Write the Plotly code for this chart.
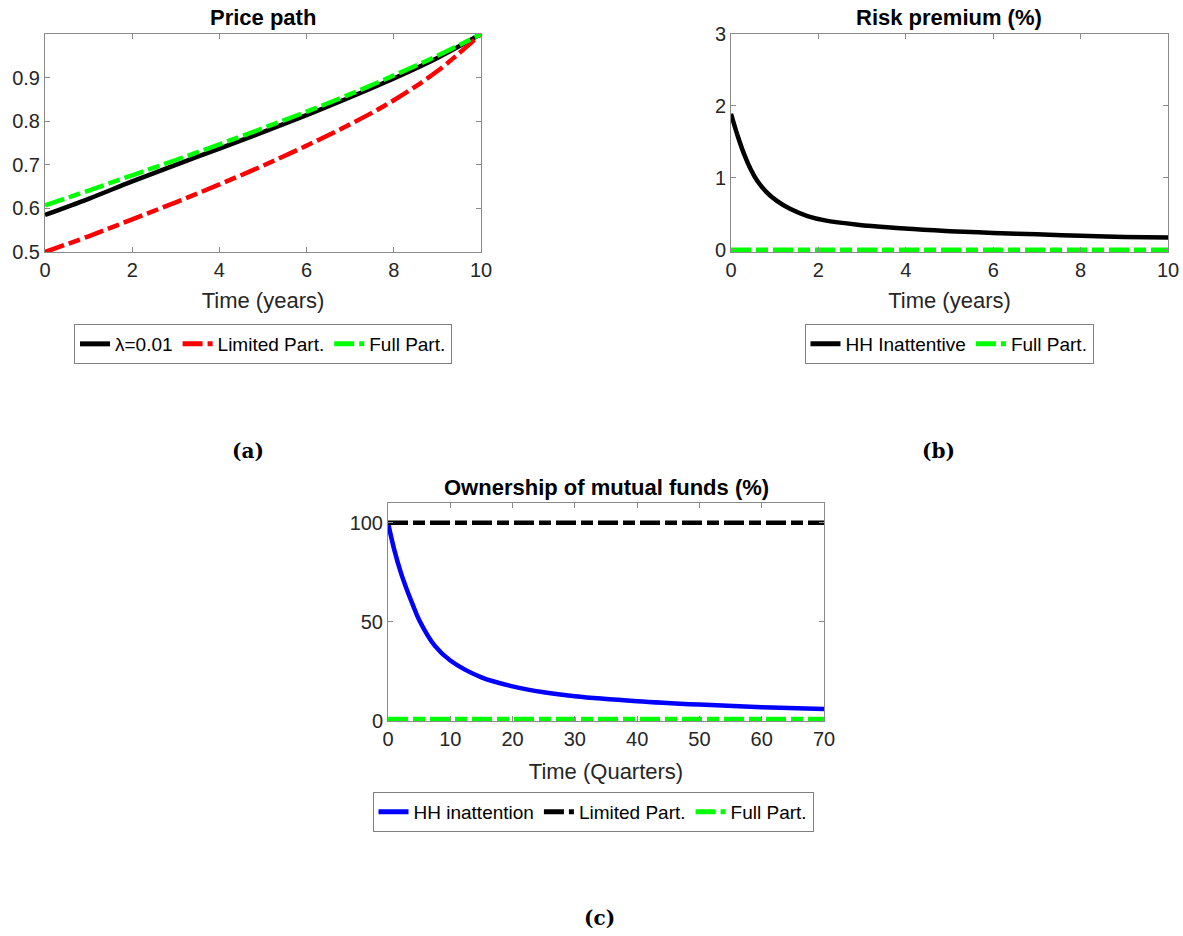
import plotly.graph_objects as go

W, H = 1183, 936

# ---------- data ----------
t_years = [0, 1, 2, 3, 4, 5, 6, 7, 8, 9, 10]
price_lambda = [0.585, 0.622, 0.662, 0.700, 0.737, 0.775, 0.814, 0.855, 0.898, 0.945, 1.0]
price_limited = [0.500, 0.536, 0.575, 0.614, 0.655, 0.698, 0.744, 0.793, 0.848, 0.915, 1.0]
price_full = [0.607, 0.641, 0.676, 0.711, 0.747, 0.784, 0.822, 0.862, 0.905, 0.950, 1.0]

t_rp = [0, 0.15, 0.3, 0.45, 0.6, 0.8, 1.05, 1.35, 1.75, 2.15, 2.9, 3.65, 4.4, 5, 6, 7, 8, 9, 10]
rp_inattentive = [1.89, 1.59, 1.33, 1.12, 0.96, 0.81, 0.68, 0.57, 0.47, 0.41, 0.35, 0.31, 0.28,
                  0.26, 0.235, 0.215, 0.195, 0.18, 0.17]
rp_full = [0.0] * len(t_rp)

t_q = [0, 1, 2, 3, 4, 5, 7.5, 10, 15, 20, 25, 30, 40, 50, 60, 70]
own_hh = [100, 86.5, 75.5, 66.5, 58.5, 51, 38, 30.5, 22, 17.5, 14.5, 12.5, 10, 8.3, 7.0, 6.0]
own_limited = [100.0] * len(t_q)
own_full = [1.0] * len(t_q)

# ---------- styling ----------
def px_x(p):
    return p / W

def px_y(p):
    return 1 - p / H

DASH = "20px,5px,12px,5px"
LW = 4.5
FONT = "Liberation Sans, Arial, sans-serif"
AXC = "#8a8a8a"
TXT = "#262626"

fig = go.Figure()

# Panel (a)
fig.add_trace(go.Scatter(x=t_years, y=price_lambda, mode="lines", name="λ=0.01",
                         line=dict(color="black", width=LW, shape="spline"),
                         xaxis="x", yaxis="y", legend="legend"))
fig.add_trace(go.Scatter(x=t_years, y=price_limited, mode="lines", name="Limited Part.",
                         line=dict(color="#ff0000", width=LW, dash=DASH, shape="spline"),
                         xaxis="x", yaxis="y", legend="legend"))
fig.add_trace(go.Scatter(x=t_years, y=price_full, mode="lines", name="Full Part.",
                         line=dict(color="#00ff00", width=LW, dash=DASH, shape="spline"),
                         xaxis="x", yaxis="y", legend="legend"))

# Panel (b)
fig.add_trace(go.Scatter(x=t_rp, y=rp_inattentive, mode="lines", name="HH Inattentive",
                         line=dict(color="black", width=LW, shape="spline"),
                         xaxis="x2", yaxis="y2", legend="legend2"))
fig.add_trace(go.Scatter(x=t_rp, y=rp_full, mode="lines", name="Full Part.",
                         line=dict(color="#00ff00", width=LW, dash=DASH),
                         xaxis="x2", yaxis="y2", legend="legend2"))

# Panel (c)
fig.add_trace(go.Scatter(x=t_q, y=own_hh, mode="lines", name="HH inattention",
                         line=dict(color="#0000ff", width=LW, shape="spline"),
                         xaxis="x3", yaxis="y3", legend="legend3"))
fig.add_trace(go.Scatter(x=t_q, y=own_limited, mode="lines", name="Limited Part.",
                         line=dict(color="black", width=LW, dash=DASH),
                         xaxis="x3", yaxis="y3", legend="legend3"))
fig.add_trace(go.Scatter(x=t_q, y=own_full, mode="lines", name="Full Part.",
                         line=dict(color="#00ff00", width=LW, dash=DASH),
                         xaxis="x3", yaxis="y3", legend="legend3"))

def xax(domain, rng, dtick, title, anchor, standoff):
    return dict(domain=domain, range=rng, dtick=dtick, tick0=0, anchor=anchor, automargin=False,
                showgrid=False, zeroline=False, showline=True, linecolor=AXC, linewidth=1,
                mirror="ticks", ticks="inside", ticklen=5, tickcolor=AXC,
                tickfont=dict(family=FONT, size=20, color=TXT),
                title=dict(text=title, font=dict(family=FONT, size=22, color=TXT), standoff=standoff))

def yax(domain, rng, tickvals, anchor):
    return dict(domain=domain, range=rng, tickvals=tickvals, anchor=anchor, automargin=False,
                showgrid=False, zeroline=False, showline=True, linecolor=AXC, linewidth=1,
                mirror="ticks", ticks="inside", ticklen=5, tickcolor=AXC,
                tickfont=dict(family=FONT, size=20, color=TXT))

ya = [px_y(252), px_y(34)]
yc = [px_y(721), px_y(503)]

def legend_box(xc, ytop):
    return dict(orientation="h", x=px_x(xc), y=px_y(ytop), xanchor="center", yanchor="top",
                bordercolor="#7f7f7f", borderwidth=1, bgcolor="white",
                font=dict(family=FONT, size=19, color="black"),
                itemwidth=30, tracegroupgap=0, itemsizing="constant")

fig.update_layout(
    width=W, height=H, margin=dict(l=0, r=0, t=0, b=0, autoexpand=False),
    plot_bgcolor="white", paper_bgcolor="white",
    xaxis=xax([px_x(45), px_x(481)], [0, 10], 2, "Time (years)", "y", 12),
    yaxis=yax(ya, [0.5, 1.0], [0.5, 0.6, 0.7, 0.8, 0.9], "x"),
    xaxis2=xax([px_x(731), px_x(1168)], [0, 10], 2, "Time (years)", "y2", 12),
    yaxis2=yax(ya, [-0.03, 3], [0, 1, 2, 3], "x2"),
    xaxis3=xax([px_x(388), px_x(824)], [0, 70], 10, "Time (Quarters)", "y3", 14),
    yaxis3=yax(yc, [0, 110], [0, 50, 100], "x3"),
    legend=legend_box(263, 324),
    legend2=legend_box(949, 324),
    legend3=legend_box(593, 792),
    showlegend=True,
)

titles = [("Price path", 263, 17), ("Risk premium (%)", 949, 17),
          ("Ownership of mutual funds (%)", 606, 487)]
for txt, x, y in titles:
    fig.add_annotation(text="<b>%s</b>" % txt, x=px_x(x), y=px_y(y), xref="paper", yref="paper",
                       showarrow=False, xanchor="center", yanchor="middle",
                       font=dict(family=FONT, size=22, color="black"))

captions = [("(a)", 248, 451), ("(b)", 938, 451), ("(c)", 599, 918)]
for txt, x, y in captions:
    fig.add_annotation(text="<b>%s</b>" % txt, x=px_x(x), y=px_y(y), xref="paper", yref="paper",
                       showarrow=False, xanchor="center", yanchor="middle",
                       font=dict(family="DejaVu Serif, serif", size=20, color="black"))

fig.write_html("out.html")
